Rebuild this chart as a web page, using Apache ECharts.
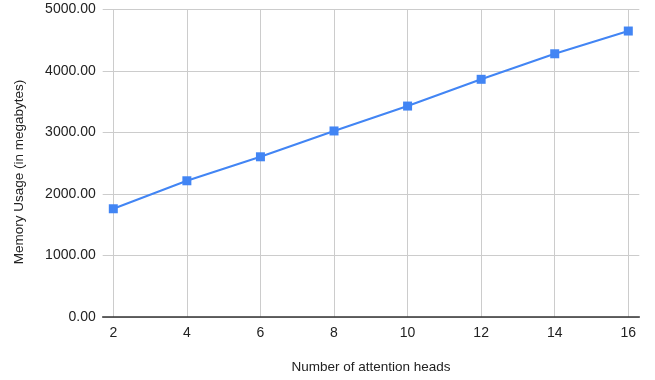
<!DOCTYPE html>
<html>
<head>
<meta charset="utf-8">
<script src="https://cdn.jsdelivr.net/npm/echarts@6/dist/echarts.min.js"></script>
<style>
  html, body { margin: 0; padding: 0; background: #fff; overflow: hidden; }
  #chart { width: 655px; height: 380px; }
</style>
</head>
<body>
<div id="chart"></div>
<script>
// Memory usage measured for different numbers of attention heads
const heads = [2, 4, 6, 8, 10, 12, 14, 16];
const memoryMb = [1760, 2215, 2605, 3025, 3430, 3865, 4280, 4650];
const yTicks = [0, 1000, 2000, 3000, 4000, 5000];

const FONT = '"Liberation Sans", Arial, sans-serif';
const GRID_COLOR = '#cccccc';
const TEXT_COLOR = '#222222';

const chart = echarts.init(document.getElementById('chart'), null, { renderer: 'canvas' });

chart.setOption({
  backgroundColor: '#ffffff',
  animation: false,
  textStyle: { fontFamily: FONT },
  grid: [
    // outer frame: horizontal gridlines, baseline and y labels
    { left: 102.7, right: 15.7, top: 9.5, bottom: 63, containLabel: false, outerBoundsMode: 'none' },
    // inner frame: data range 2..16, vertical gridlines and x labels
    { left: 113.3, right: 26.7, top: 9.5, bottom: 63, containLabel: false, outerBoundsMode: 'none' }
  ],
  xAxis: [
    {
      gridIndex: 0,
      type: 'value',
      min: 0,
      max: 1,
      axisLine: { show: true, onZero: false, lineStyle: { color: '#333333', width: 1.5 } },
      axisTick: { show: false },
      axisLabel: { show: false },
      splitLine: { show: false },
      name: 'Number of attention heads',
      nameLocation: 'middle',
      nameGap: 43,
      nameTextStyle: { color: TEXT_COLOR, fontSize: 13.5, fontFamily: FONT }
    },
    {
      gridIndex: 1,
      type: 'value',
      min: heads[0],
      max: heads[heads.length - 1],
      interval: 2,
      axisLine: { show: false },
      axisTick: { show: false },
      axisLabel: { color: TEXT_COLOR, fontSize: 14, margin: 9, fontFamily: FONT },
      splitLine: { show: true, lineStyle: { color: GRID_COLOR, width: 1 } }
    }
  ],
  yAxis: [
    {
      gridIndex: 0,
      type: 'value',
      min: yTicks[0],
      max: yTicks[yTicks.length - 1],
      interval: 1000,
      axisLine: { show: false },
      axisTick: { show: false },
      axisLabel: {
        color: TEXT_COLOR,
        fontSize: 14,
        margin: 7,
        fontFamily: FONT,
        formatter: v => v.toFixed(2)
      },
      splitLine: { show: true, lineStyle: { color: GRID_COLOR, width: 1 } }
    },
    {
      gridIndex: 1,
      type: 'value',
      min: yTicks[0],
      max: yTicks[yTicks.length - 1],
      show: false,
      splitLine: { show: false }
    }
  ],
  graphic: [
    {
      // y-axis title, rotated
      type: 'text',
      x: 19,
      y: 172,
      rotation: Math.PI / 2,
      style: {
        text: 'Memory Usage (in megabytes)',
        fill: TEXT_COLOR,
        font: '13.5px ' + FONT,
        align: 'center',
        verticalAlign: 'middle'
      }
    }
  ],
  series: [
    {
      type: 'line',
      xAxisIndex: 1,
      yAxisIndex: 1,
      data: heads.map((h, i) => [h, memoryMb[i]]),
      symbol: 'rect',
      symbolSize: 9,
      color: '#4285F4',
      lineStyle: { color: '#4285F4', width: 2 },
      itemStyle: { color: '#4285F4' },
      z: 5
    }
  ]
});
</script>
</body>
</html>
